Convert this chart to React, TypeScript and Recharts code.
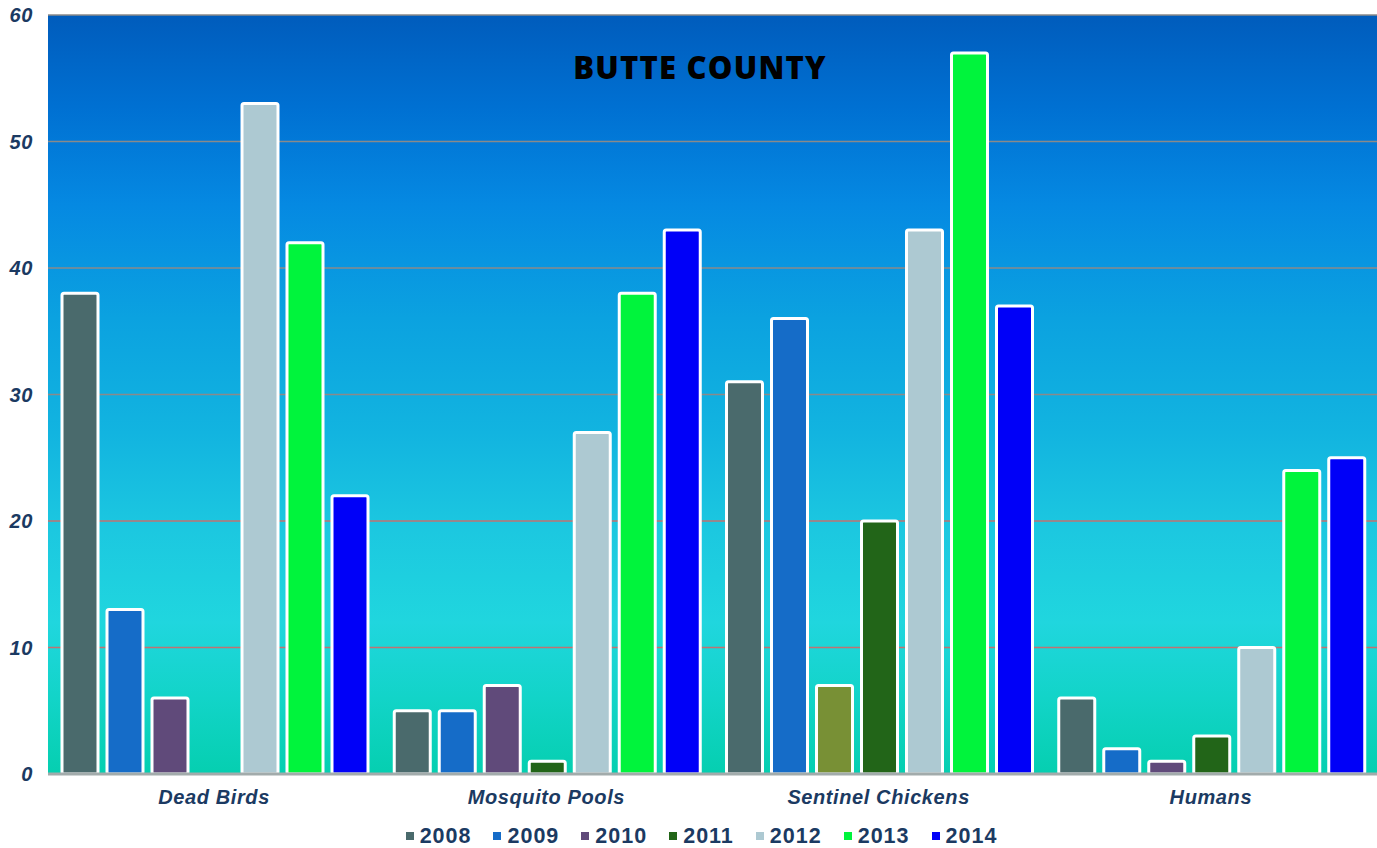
import React from 'react';
import { BarChart, Bar, XAxis, YAxis, CartesianGrid, Legend, Cell } from 'recharts';

const categories = ['Dead Birds', 'Mosquito Pools', 'Sentinel Chickens', 'Humans'];
const years = ['2008', '2009', '2010', '2011', '2012', '2013', '2014'];
const v2008 = [38, 5, 31, 6];
const v2009 = [13, 5, 36, 2];
const v2010 = [6, 7, 7, 1];
const v2011 = [0, 1, 20, 3];
const v2012 = [53, 27, 43, 10];
const v2013 = [42, 38, 57, 24];
const v2014 = [22, 43, 37, 25];
const yTicks = [0, 10, 20, 30, 40, 50, 60];

const seriesValues = [v2008, v2009, v2010, v2011, v2012, v2013, v2014];
const colors = ['#4a6a6c', '#156cc8', '#604a7a', '#226518', '#adc9d2', '#00f43c', '#0000f8'];
const olive = '#789035';

const data = categories.map((c, i) => {
  const row: any = { name: c };
  years.forEach((y, k) => { row[y] = seriesValues[k][i]; });
  return row;
});

const labelColor = '#1b3a62';
const fontFamily = '"Liberation Sans", Arial, sans-serif';

const LegendContent = () => (
  <div style={{ display: 'flex', justifyContent: 'center', alignItems: 'center', height: 40, paddingLeft: 26 }}>
    {years.map((y, k) => (
      <div key={y} style={{ display: 'flex', alignItems: 'center', marginRight: k < years.length - 1 ? 22 : 0, position: 'relative', top: 8 }}>
        <div style={{ width: 8, height: 8, background: colors[k], marginRight: 6 }} />
        <span style={{ fontFamily, fontWeight: 'bold', fontSize: 21.5, letterSpacing: 1, color: labelColor, lineHeight: '22px' }}>{y}</span>
      </div>
    ))}
  </div>
);

const gridLine = (props: any) => {
  const { x1, x2, y1, y2, key } = props;
  const reddish = y1 > 500 && y1 < 700;
  return <line key={key} x1={x1} x2={x2} y1={y1} y2={y2} stroke={reddish ? '#c07272' : '#8a8a8a'} strokeWidth={1.3} />;
};

const tickStyle = { fill: labelColor, fontSize: 20, fontWeight: 'bold', fontStyle: 'italic', fontFamily, letterSpacing: 0.6 };

export default function App() {
  return (
    <div style={{ position: 'absolute', left: 0, top: 0, width: 1377, height: 848, background: '#fff' }}>
      <BarChart
        width={1377}
        height={848}
        data={data}
        margin={{ top: 15, right: 0, left: 0, bottom: 0 }}
        barGap={9}
        barCategoryGap={14}
      >
        <defs>
          <linearGradient id="bg" x1="0" y1="0" x2="0" y2="1">
            <stop offset="0%" stopColor="#005cbc" />
            <stop offset="12%" stopColor="#0070d2" />
            <stop offset="25%" stopColor="#0589e2" />
            <stop offset="40%" stopColor="#0ba2e0" />
            <stop offset="55%" stopColor="#12b4e0" />
            <stop offset="68%" stopColor="#1cc8e0" />
            <stop offset="80%" stopColor="#20d6de" />
            <stop offset="90%" stopColor="#12d4c8" />
            <stop offset="100%" stopColor="#05cfb0" />
          </linearGradient>
        </defs>
        <CartesianGrid vertical={false} horizontal={gridLine} fill="url(#bg)" fillOpacity={1} />
        <XAxis
          dataKey="name"
          height={34}
          tickLine={false}
          tickMargin={10}
          axisLine={{ stroke: '#a2abab', strokeWidth: 3 }}
          tick={tickStyle}
        />
        <YAxis
          width={48}
          domain={[0, 60]}
          ticks={yTicks}
          tickLine={false}
          axisLine={false}
          tickMargin={9}
          tick={tickStyle}
        />
        <Legend verticalAlign="bottom" height={40} content={<LegendContent />} />
        {years.map((y, k) => (
          <Bar key={y} dataKey={y} fill={colors[k]} stroke="#ffffff" strokeWidth={3} radius={2} isAnimationActive={false}>
            {data.map((d, i) => (
              <Cell key={i} fill={k === 2 && d.name === 'Sentinel Chickens' ? olive : colors[k]} />
            ))}
          </Bar>
        ))}
      </BarChart>
      <div
        style={{
          position: 'absolute',
          left: 0,
          width: 1400,
          top: 47,
          textAlign: 'center',
          fontFamily: '"Open Sans", sans-serif',
          fontWeight: 800,
          fontSize: 31,
          letterSpacing: 1.2,
          color: '#000',
          lineHeight: '40px',
          pointerEvents: 'none',
        }}
      >
        BUTTE COUNTY
      </div>
    </div>
  );
}
